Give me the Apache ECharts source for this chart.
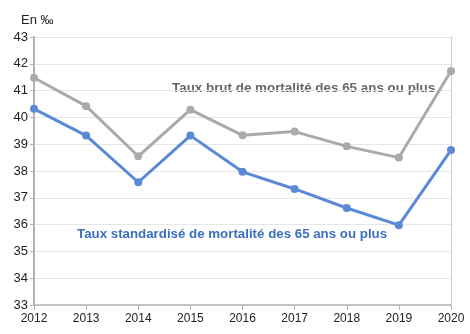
<!DOCTYPE html>
<html><head><meta charset="utf-8">
<script src="https://cdn.jsdelivr.net/npm/echarts@6/dist/echarts.min.js"></script>
<style>html,body{margin:0;padding:0;background:#fff}#c{width:470px;height:334px}</style>
</head><body><div id="c"></div>
<script>
const years = ['2012','2013','2014','2015','2016','2017','2018','2019','2020'];
const brut = [41.48, 40.42, 38.55, 40.29, 39.33, 39.47, 38.92, 38.50, 41.73];
const standard = [40.32, 39.32, 37.58, 39.32, 37.97, 37.33, 36.62, 35.98, 38.78];
const yTicks = {min: 33, max: 43, interval: 1};
const font = '"Liberation Sans", Arial, sans-serif';
const chart = echarts.init(document.getElementById('c'));
chart.setOption({
  animation: false,
  grid: {left: 34, right: 19, top: 37, bottom: 29, containLabel: false},
  title: {text: 'En ‰', left: 16, top: 9, textStyle: {fontFamily: font, fontSize: 13, fontWeight: 'normal', color: '#222'}},
  xAxis: {
    type: 'category', data: years, boundaryGap: false,
    axisLine: {lineStyle: {color: '#b3b3b3', width: 1.5}},
    axisTick: {show: true, length: 5, lineStyle: {color: '#b3b3b3'}},
    axisLabel: {fontFamily: font, fontSize: 12, color: '#222', margin: 8},
    splitLine: {show: false}
  },
  yAxis: [{
    type: 'value', min: yTicks.min, max: yTicks.max, interval: yTicks.interval,
    axisLine: {show: true, lineStyle: {color: '#b3b3b3', width: 2}},
    axisTick: {show: true, length: 4, lineStyle: {color: '#b3b3b3'}},
    axisLabel: {fontFamily: font, fontSize: 13, color: '#222', margin: 6},
    splitLine: {lineStyle: {color: '#e6e6e6', width: 1}}
  }, {
    type: 'value', position: 'right', min: yTicks.min, max: yTicks.max, interval: yTicks.interval,
    axisLine: {show: true, lineStyle: {color: '#cccccc', width: 1}},
    axisTick: {show: false}, axisLabel: {show: false}, splitLine: {show: false}
  }],
  series: [{
    name: 'Taux brut', type: 'line', data: brut, yAxisIndex: 0,
    symbol: 'circle', symbolSize: 8,
    lineStyle: {color: '#aaaaaa', width: 3}, itemStyle: {color: '#aaaaaa'}
  }, {
    name: 'Taux standardisé', type: 'line', data: standard, yAxisIndex: 0,
    symbol: 'circle', symbolSize: 8,
    lineStyle: {color: '#5a8ad6', width: 3}, itemStyle: {color: '#5a8ad6'}
  }],
  graphic: [{
    type: 'text', left: 172, top: 82,
    style: {text: 'Taux brut de mortalité des 65 ans ou plus', font: 'bold 13.4px ' + font, fill: '#666666'}
  }, {
    type: 'text', left: 77, top: 228,
    style: {text: 'Taux standardisé de mortalité des 65 ans ou plus', font: 'bold 13.3px ' + font, fill: '#3d6fbf'}
  }]
});
</script></body></html>
